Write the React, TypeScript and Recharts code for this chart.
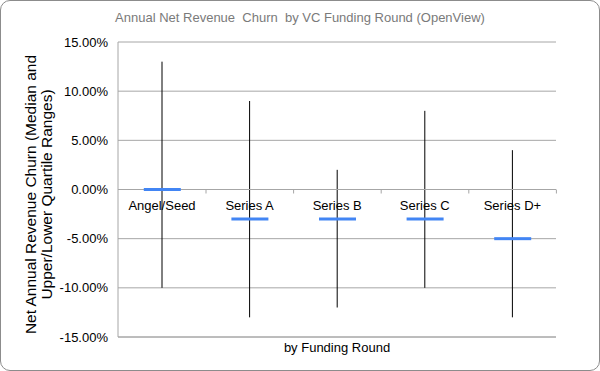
import React from 'react';
import { ComposedChart, Bar, Scatter, XAxis, YAxis, CartesianGrid, ReferenceLine, Label } from 'recharts';

const categories = ['Angel/Seed', 'Series A', 'Series B', 'Series C', 'Series D+'];
const upperQuartile = [0.13, 0.09, 0.02, 0.08, 0.04];
const lowerQuartile = [-0.10, -0.13, -0.12, -0.10, -0.13];
const medians = [0, -0.03, -0.03, -0.03, -0.05];
const yTicks = [-0.15, -0.10, -0.05, 0, 0.05, 0.10, 0.15];

const data = categories.map((c, i) => ({
  name: c,
  range: [lowerQuartile[i], upperQuartile[i]],
  median: medians[i],
}));

const FONT = '"Liberation Sans", Arial, sans-serif';
const GRID = '#a6a6a6';
const BLUE = '#4285f4';

const RangeShape = (props: any) => {
  const { x, y, width, height, payload } = props;
  const top = Math.min(y, y + height);
  const bot = Math.max(y, y + height);
  const [low, high] = payload.range;
  const y0 = top + ((high - 0) / (high - low)) * (bot - top);
  const cx = x + width / 2;
  return (
    <g>
      <text x={cx} y={y0 + 20} textAnchor="middle" fontSize={13} fontFamily={FONT} fill="#000">
        {payload.name}
      </text>
      <line x1={x + width} x2={x + width} y1={y0} y2={y0 + 4} stroke={GRID} strokeWidth={1} />
      <line x1={cx} x2={cx} y1={top} y2={bot} stroke="#000" strokeWidth={1} />
    </g>
  );
};

const MedianShape = (props: any) => {
  const { cx, cy } = props;
  return <rect x={cx - 18} y={cy - 1.5} width={37} height={3} fill={BLUE} />;
};

export default function App() {
  return (
    <div style={{ position: 'absolute', left: 0, top: 0, width: 600, height: 371, background: '#fff' }}>
      <div
        style={{
          position: 'absolute', left: 0, top: 0, width: 600, height: 371, boxSizing: 'border-box',
          border: '1px solid #8c8c8c', borderRadius: 10,
        }}
      />
      <ComposedChart
        width={600}
        height={371}
        data={data}
        margin={{ top: 42, right: 44, left: 0, bottom: 0 }}
        barCategoryGap={0}
        style={{ position: 'absolute', left: 0, top: 0 }}
      >
        <text x={300} y={22} textAnchor="middle" fontSize={13} fontFamily={FONT} fill="#7a7a7a" style={{ whiteSpace: 'pre' }}>
          {'Annual Net Revenue  Churn  by VC Funding Round (OpenView)'}
        </text>
        <CartesianGrid vertical={false} stroke={GRID} />
        <XAxis
          dataKey="name"
          height={34}
          tick={false}
          tickLine={false}
          axisLine={{ stroke: GRID }}
        >
          <Label
            content={(p: any) => {
              const vb = p.viewBox;
              return (
                <text x={vb.x + vb.width / 2} y={vb.y + 15} textAnchor="middle" fontSize={13} fontFamily={FONT} fill="#000">
                  by Funding Round
                </text>
              );
            }}
          />
        </XAxis>
        <YAxis
          width={118}
          domain={[-0.15, 0.15]}
          ticks={yTicks}
          interval={0}
          tickFormatter={(v: number) => (v * 100).toFixed(2) + '%'}
          tick={{ fontSize: 13, fontFamily: FONT, fill: '#000' }}
          tickLine={false}
          tickSize={8}
          tickMargin={2}
          axisLine={{ stroke: GRID }}
        >
          <Label
            content={(p: any) => {
              const vb = p.viewBox;
              const cy = vb.y + vb.height / 2 + 5;
              return (
                <g fontSize={15.5} fontFamily={FONT} fill="#000">
                  <text x={30} y={cy} textAnchor="middle" dominantBaseline="central" transform={`rotate(-90, 30, ${cy})`}>
                    Net Annual Revenue Churn (Median and
                  </text>
                  <text x={46} y={cy} textAnchor="middle" dominantBaseline="central" transform={`rotate(-90, 46, ${cy})`}>
                    Upper/Lower Quartile Ranges)
                  </text>
                </g>
              );
            }}
          />
        </YAxis>
        <ReferenceLine y={0} stroke={GRID} />
        <Bar dataKey="range" shape={RangeShape} isAnimationActive={false} />
        <Scatter dataKey="median" shape={MedianShape} isAnimationActive={false} />
      </ComposedChart>
    </div>
  );
}
